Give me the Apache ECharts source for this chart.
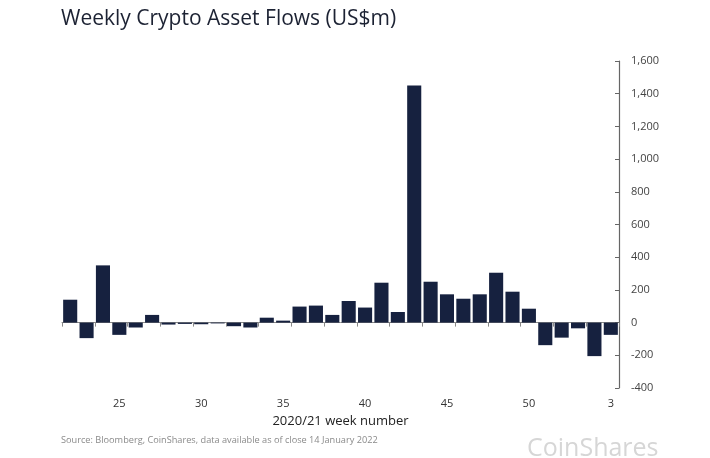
<!DOCTYPE html>
<html lang="en">
<head>
    <meta charset="UTF-8">
    <title>Weekly Crypto Asset Flows</title>
    <script src="https://cdn.jsdelivr.net/npm/echarts@6/dist/echarts.min.js"></script>
    <style>
        html, body { margin: 0; padding: 0; background: #fff; }
        #main { width: 710px; height: 458px; }
    </style>
</head>
<body>
<div id="main"></div>
<script>
    // week numbers, 2020/21
    var weeks = ['22', '23', '24', '25', '26', '27', '28', '29', '30', '31', '32', '33', '34', '35', '36', '37',
        '38', '39', '40', '41', '42', '43', '44', '45', '46', '47', '48', '49', '50', '51', '52', '1', '2', '3'];
    // weekly flows, US$m
    var flows = [140, -95, 350, -75, -30, 47, -12, -8, -10, -5, -22, -30, 30, 12, 98, 104,
        47, 132, 92, 244, 65, 1450, 250, 173, 146, 173, 305, 189, 85, -138, -92, -35, -205, -75];
    var shownWeeks = ['25', '30', '35', '40', '45', '50', '3'];

    var myChart = echarts.init(document.getElementById('main'));
    var font = '"Open Sans", sans-serif';

    var option = {
        backgroundColor: '#fff',
        animation: false,
        title: {
            text: 'Weekly Crypto Asset Flows (US$m)',
            left: 56,
            top: 4,
            textStyle: { fontFamily: font, fontSize: 21, fontWeight: 500, color: '#1c2233' }
        },
        graphic: [
            {
                type: 'text', left: 61, top: 436,
                style: { text: 'Source: Bloomberg, CoinShares, data available as of close 14 January 2022',
                    fontFamily: font, fontSize: 9.2, fill: '#8a8a8a' }
            },
            {
                type: 'text', left: 527, top: 436,
                style: { text: 'CoinShares', fontFamily: font, fontSize: 25, fill: '#d6d6d6' }
            }
        ],
        grid: { left: 62, right: 91, top: 61, bottom: 70 },
        xAxis: [
            {
                type: 'category',
                data: weeks,
                position: 'bottom',
                axisLine: { show: false, onZero: false },
                axisTick: { show: false },
                axisLabel: {
                    interval: function (i, v) { return shownWeeks.indexOf(v) >= 0; },
                    margin: 10,
                    fontFamily: font, fontSize: 11, color: '#333'
                },
                name: '2020/21 week number',
                nameLocation: 'middle',
                nameGap: 27,
                nameTextStyle: { fontFamily: font, fontSize: 13, color: '#222' }
            },
            {
                type: 'category',
                data: weeks,
                position: 'bottom',
                axisLine: { show: true, onZero: true, lineStyle: { color: '#888', width: 1 } },
                axisTick: { show: true, length: 4, lineStyle: { color: '#888' } },
                axisLabel: { show: false }
            }
        ],
        yAxis: {
            type: 'value',
            position: 'right',
            min: -400,
            max: 1600,
            interval: 200,
            splitLine: { show: false },
            axisLine: { show: true, lineStyle: { color: '#666', width: 1.2 } },
            axisTick: { show: true, inside: true, length: 4, lineStyle: { color: '#666' } },
            axisLabel: {
                margin: 12,
                fontFamily: font, fontSize: 11, color: '#444',
                formatter: function (v) { return v.toLocaleString('en-US'); }
            }
        },
        series: [
            {
                name: 'Flows',
                type: 'bar',
                xAxisIndex: 0,
                data: flows,
                barCategoryGap: '14%',
                itemStyle: { color: '#16213f' }
            }
        ]
    };
    myChart.setOption(option);
</script>
</body>
</html>
